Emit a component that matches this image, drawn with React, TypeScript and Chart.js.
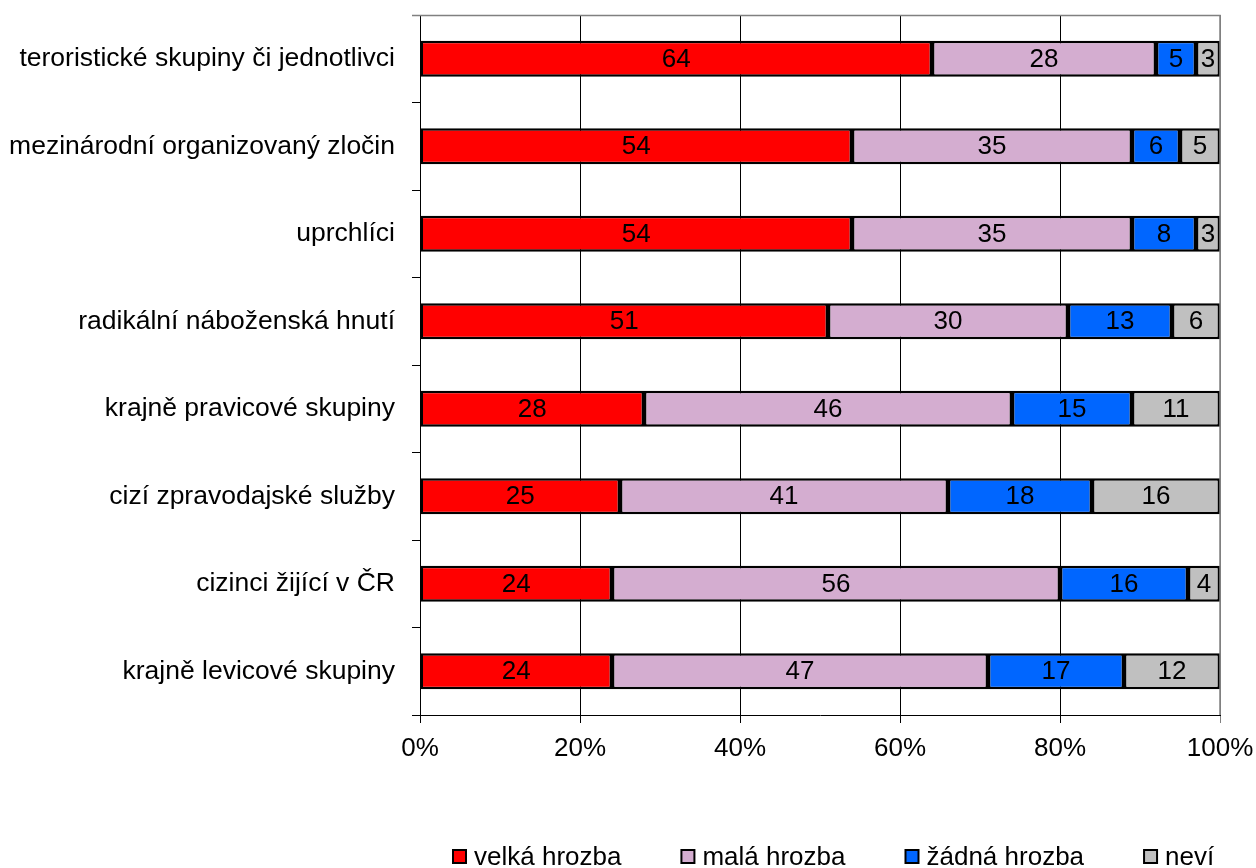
import React, { useEffect, useRef } from "react";
import { Chart, registerables } from "chart.js";
Chart.register(...registerables);

const categories = [
  "teroristické skupiny či jednotlivci",
  "mezinárodní organizovaný zločin",
  "uprchlíci",
  "radikální náboženská hnutí",
  "krajně pravicové skupiny",
  "cizí zpravodajské služby",
  "cizinci žijící v ČR",
  "krajně levicové skupiny",
];
const seriesNames = ["velká hrozba", "malá hrozba", "žádná hrozba", "neví"];
const velkaHrozba = [64, 54, 54, 51, 28, 25, 24, 24];
const malaHrozba = [28, 35, 35, 30, 46, 41, 56, 47];
const zadnaHrozba = [5, 6, 8, 13, 15, 18, 16, 17];
const nevi = [3, 5, 3, 6, 11, 16, 4, 12];
const seriesColors = ["#FF0000", "#D4ADD0", "#0066FF", "#C0C0C0"];
const xTickValues = [0, 20, 40, 60, 80, 100];

const FONT = "'Liberation Sans', Arial, Helvetica, sans-serif";

const segLabels = {
  id: "segLabels",
  afterDatasetsDraw(chart: any) {
    const ctx = chart.ctx;
    ctx.save();
    ctx.font = `26px ${FONT}`;
    ctx.fillStyle = "#000";
    ctx.textAlign = "center";
    ctx.textBaseline = "middle";
    chart.data.datasets.forEach((ds: any, i: number) => {
      const meta = chart.getDatasetMeta(i);
      meta.data.forEach((bar: any, j: number) => {
        const p = bar.getProps(["x", "base", "y"], true);
        ctx.fillText(String(ds.data[j]), (p.x + p.base) / 2, p.y + 1);
      });
    });
    ctx.restore();
  },
};

const frame = {
  id: "frame",
  afterDraw(chart: any) {
    const { ctx, chartArea } = chart;
    ctx.save();
    ctx.strokeStyle = "#808080";
    ctx.lineWidth = 1.5;
    ctx.beginPath();
    ctx.moveTo(chartArea.left - 8, chartArea.top + 0.5);
    ctx.lineTo(chartArea.right, chartArea.top + 0.5);
    ctx.lineTo(chartArea.right, chartArea.bottom);
    ctx.stroke();
    ctx.restore();
  },
};

const customLegend = {
  id: "customLegend",
  afterDraw(chart: any) {
    const { ctx, chartArea } = chart;
    ctx.save();
    ctx.font = `26px ${FONT}`;
    ctx.textBaseline = "alphabetic";
    ctx.textAlign = "left";
    let x = chartArea.left + 33;
    const baseline = 865;
    chart.data.datasets.forEach((ds: any) => {
      ctx.fillStyle = ds.backgroundColor;
      ctx.fillRect(x, 850, 13, 13);
      ctx.strokeStyle = "#000";
      ctx.lineWidth = 2;
      ctx.strokeRect(x, 850, 13, 13);
      ctx.fillStyle = "#000";
      ctx.fillText(ds.label, x + 21, baseline);
      x += 21 + ctx.measureText(ds.label).width + 60;
    });
    ctx.restore();
  },
};

export default function App() {
  const ref = useRef<HTMLCanvasElement>(null);
  useEffect(() => {
    if (!ref.current) return;
    const values = [velkaHrozba, malaHrozba, zadnaHrozba, nevi];
    const chart = new Chart(ref.current, {
      type: "bar",
      data: {
        labels: categories,
        datasets: seriesNames.map((name, i) => ({
          label: name,
          data: values[i],
          backgroundColor: seriesColors[i],
          borderColor: "#000",
          borderWidth: 2.5,
          borderSkipped: false,
          barPercentage: 0.41,
          categoryPercentage: 1.0,
        })),
      },
      options: {
        indexAxis: "y",
        responsive: false,
        animation: false,
        layout: { padding: { top: 15, right: 36, left: 0, bottom: 93 } },
        plugins: { legend: { display: false }, tooltip: { enabled: false } },
        scales: {
          x: {
            stacked: true,
            min: 0,
            max: 100,
            afterBuildTicks: (scale: any) => {
              scale.ticks = xTickValues.map((v) => ({ value: v }));
            },
            afterFit: (scale: any) => {
              scale.height = 60;
              scale.paddingLeft = 0;
              scale.paddingRight = 0;
            },
            ticks: {
              callback: (v: any) => v + "%",
              color: "#000",
              font: { family: FONT, size: 26 },
              padding: 10,
              maxRotation: 0,
            },
            grid: {
              color: (c: any) => (c.tick && c.tick.value === 100 ? "#808080" : "#000"),
              lineWidth: 1,
              tickLength: 8,
            },
            border: { color: "#000", width: 1 },
          },
          y: {
            stacked: true,
            offset: true,
            afterFit: (scale: any) => {
              scale.width = 420;
              scale.paddingTop = 0;
              scale.paddingBottom = 0;
            },
            ticks: {
              color: "#000",
              font: { family: FONT, size: 26.5 },
              padding: 17,
            },
            grid: {
              offset: true,
              drawOnChartArea: false,
              color: "#000",
              tickLength: 8,
              lineWidth: 1,
            },
            border: { color: "#000", width: 1 },
          },
        },
      },
      plugins: [segLabels, frame, customLegend],
    });
    return () => chart.destroy();
  }, []);
  return (
    <canvas
      ref={ref}
      width={1256}
      height={868}
      style={{ position: "absolute", left: 0, top: 0, background: "#fff" }}
    />
  );
}
